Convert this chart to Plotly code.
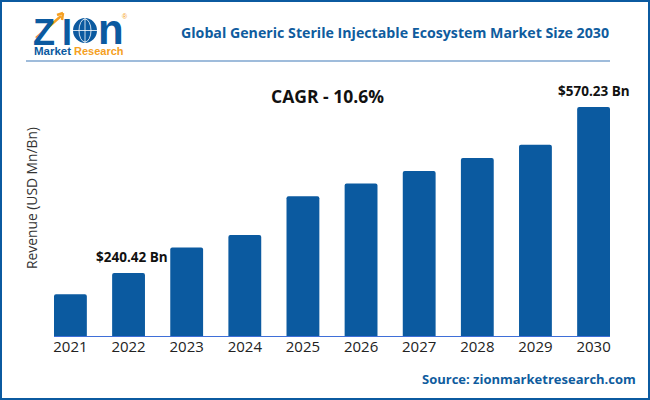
import plotly.graph_objects as go

# revenue, only 2022 and 2030 are printed on the chart
years = [2021, 2022, 2023, 2024, 2025, 2026, 2027, 2028, 2029, 2030]
revenue = [198, 240.42, 291, 316, 393, 418, 443, 469, 495, 570.23]
value_labels = ["", "$240.42 Bn", "", "", "", "", "", "", "", "$570.23 Bn"]

BLUE = "#0b5aa0"
ORANGE = "#f5a023"
FONT = "Open Sans"
LOGO_FONT = "Liberation Sans"

# plot area in page pixels, everything on the page is placed relative to it
LEFT, RIGHT, TOP, BOTTOM = 54, 610, 60, 336


def px_x(px):
    return (px - LEFT) / (RIGHT - LEFT)


def px_y(py):
    return (BOTTOM - py) / (BOTTOM - TOP)


fig = go.Figure()
fig.add_trace(go.Bar(
    x=years, y=revenue, width=0.565,
    marker=dict(color=BLUE, cornerradius=2, line=dict(width=0)),
    showlegend=False
))

# labels for the two known values
for year, val, label in zip(years, revenue, value_labels):
    if label:
        fig.add_annotation(
            x=year, y=val, text="<b>%s</b>" % label, showarrow=False,
            yanchor="bottom", yshift=5, xshift=3 if year == 2022 else 0,
            font=dict(family=FONT, size=13.5, color="#111111")
        )


def page_text(px, py, text, size, color, anchor="center", family=FONT):
    fig.add_annotation(
        xref="paper", yref="paper", x=px_x(px), y=px_y(py),
        text=text, showarrow=False, xanchor=anchor, yanchor="middle",
        font=dict(family=family, size=size, color=color)
    )


def page_shape(kind, x0, y0, x1, y1, **kwargs):
    fig.add_shape(type=kind, xref="paper", yref="paper",
                  x0=px_x(x0), x1=px_x(x1), y0=px_y(y0), y1=px_y(y1), **kwargs)


page_text(327.5, 96, "<b>CAGR - 10.6%</b>", 17.5, "#111111")
page_text(394.5, 32, "<b>Global Generic Sterile Injectable Ecosystem Market Size 2030</b>", 14.2, "#0f5c9e")
page_text(638, 379, "<b>Source: zionmarketresearch.com</b>", 13, "#0f5c9e", anchor="right")

# rule under the header
page_shape("line", 26, 61, 610, 61, line=dict(color="#7fa6cf", width=1.5))

# logo
page_text(44, 32, "<b>Z</b>", 36, BLUE, family=LOGO_FONT)
page_text(66.5, 32, "<b>I</b>", 36, BLUE, family=LOGO_FONT)
page_text(111, 30, "<b>n</b>", 42, BLUE, family=LOGO_FONT)
page_text(52.5, 51, "<b>Market</b>", 11.5, BLUE, family=LOGO_FONT)
page_text(98.5, 51, "<b>Research</b>", 11, ORANGE, family=LOGO_FONT)
page_text(125, 17, "®", 7, ORANGE, family=LOGO_FONT)

page_shape("circle", 73, 18, 97, 43, fillcolor=BLUE, line=dict(width=0))
page_shape("circle", 79, 19, 91, 42, line=dict(color="white", width=0.8))
page_shape("line", 85, 18, 85, 43, line=dict(color="white", width=0.8))
page_shape("line", 73, 30.5, 97, 30.5, line=dict(color="white", width=0.8))
page_shape("line", 36, 38, 61, 16, line=dict(color=ORANGE, width=2.5))
page_shape("line", 57, 15, 63, 13, line=dict(color=ORANGE, width=2.5))
page_shape("line", 63, 13, 62, 20, line=dict(color=ORANGE, width=2.5))

# frame round the whole picture
page_shape("rect", 1, 1, 649, 399, line=dict(color=BLUE, width=2))

fig.update_layout(
    width=650, height=400,
    margin=dict(l=LEFT, r=650 - RIGHT, t=TOP, b=400 - BOTTOM),
    paper_bgcolor="white", plot_bgcolor="white",
    xaxis=dict(
        range=[2020.7175, 2030.2825], tickmode="array", tickvals=years,
        ticktext=[str(y) for y in years],
        showgrid=False, showline=True, linecolor="#3f6fd8", linewidth=1, zeroline=False,
        ticks="", ticklabelstandoff=-3, tickfont=dict(family=FONT, size=15, color="#222222")
    ),
    yaxis=dict(
        range=[115.2, 663.6], showgrid=False, showticklabels=False, zeroline=False,
        title=dict(text="Revenue (USD Mn/Bn)", standoff=12, font=dict(family=FONT, size=13.8, color="#333333"))
    ),
)

# page body has a default margin that would push the picture off the window
fig.write_html("out.html", config=dict(displayModeBar=False),
               post_script="document.body.style.margin='0';")
